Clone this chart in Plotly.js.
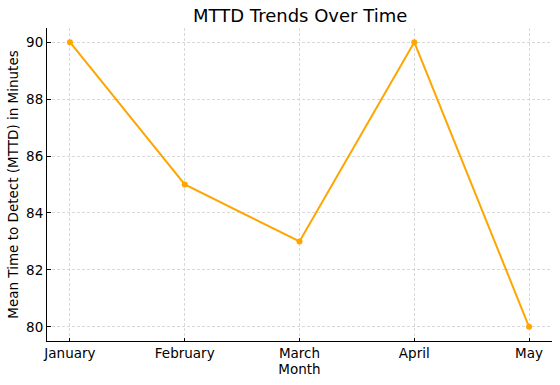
<!DOCTYPE html>
<html><head><meta charset="utf-8">
<script src="https://cdn.plot.ly/plotly-3.0.1.min.js"></script>
<style>html,body{margin:0;padding:0;background:#fff}#chart{width:560px;height:385px}</style>
</head><body><div id="chart"></div>
<script>
const months = ["January", "February", "March", "April", "May"];
const mttd = [90, 85, 83, 90, 80];
const yTicks = [80, 82, 84, 86, 88, 90];

const font = {family: "DejaVu Sans", color: "#000"};
const trace = {
  x: [0,1,2,3,4], y: mttd, type: "scatter", mode: "lines+markers",
  line: {color: "#FFA500", width: 2},
  marker: {color: "#FFA500", size: 6},
  hoverinfo: "skip"
};
const layout = {
  width: 560, height: 385,
  margin: {l: 47, r: 8, t: 27.5, b: 44},
  paper_bgcolor: "#fff", plot_bgcolor: "#fff",
  showlegend: false,
  title: {text: "MTTD Trends Over Time", font: {family: "DejaVu Sans", size: 18, color: "#000"}, x: 0.536, xanchor: "center", y: 0.96, yanchor: "middle"},
  xaxis: {
    range: [-0.2, 4.2], tickvals: [0,1,2,3,4], ticktext: months,
    showline: true, linecolor: "#000", linewidth: 1, mirror: false,
    ticks: "inside", ticklen: 3.5, tickcolor: "#000",
    showgrid: true, gridcolor: "#cfcfcf", griddash: "3px,2px", gridwidth: 0.8,
    zeroline: false, tickfont: Object.assign({size: 13.5}, font),
    title: {text: "Month", font: Object.assign({size: 13.5}, font), standoff: 2}
  },
  yaxis: {
    range: [79.5, 90.5], tickvals: yTicks,
    showline: true, linecolor: "#000", linewidth: 1, mirror: false,
    ticks: "inside", ticklen: 3.5, tickcolor: "#000",
    showgrid: true, gridcolor: "#cfcfcf", griddash: "3px,2px", gridwidth: 0.8,
    zeroline: false, tickfont: Object.assign({size: 13.5}, font),
    title: {text: "Mean Time to Detect (MTTD) in Minutes", font: Object.assign({size: 13.5}, font), standoff: 4}
  }
};
Plotly.newPlot("chart", [trace], layout, {staticPlot: true, displayModeBar: false});
</script></body></html>
